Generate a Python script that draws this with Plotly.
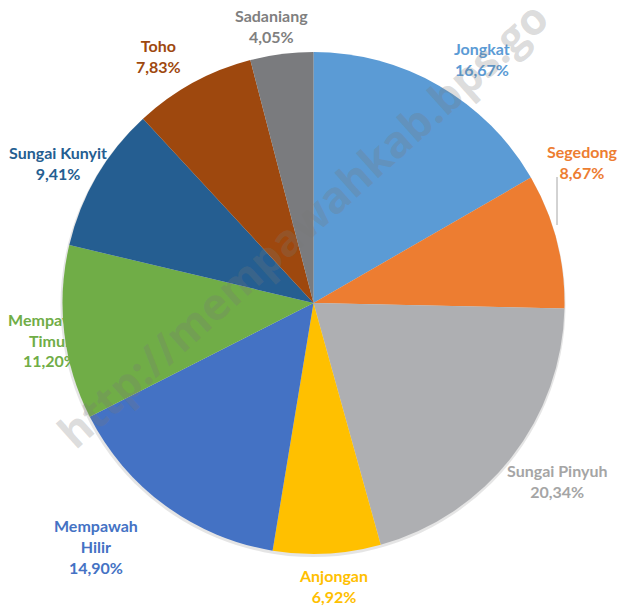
import plotly.graph_objects as go

districts = [
    "Jongkat", "Segedong", "Sungai Pinyuh", "Anjongan", "Mempawah Hilir",
    "Mempawah Timur", "Sungai Kunyit", "Toho", "Sadaniang",
]
shares = [16.67, 8.67, 20.34, 6.92, 14.90, 11.20, 9.41, 7.83, 4.05]

slice_colors = [
    "#5B9BD5", "#ED7D31", "#AEAFB2", "#FFC000", "#4472C4",
    "#70AD47", "#255E91", "#9E480E", "#7A7B7E",
]
label_colors = [
    "#5B9BD5", "#ED7D31", "#A5A5A5", "#FFC000", "#4472C4",
    "#70AD47", "#255E91", "#9E480E", "#7F7F7F",
]
# label text with line breaks, as in the original
label_names = [
    "Jongkat", "Segedong", "Sungai Pinyuh", "Anjongan", "Mempawah<br>Hilir",
    "Mempawah<br>Timur", "Sungai Kunyit", "Toho", "Sadaniang",
]

W, H = 621, 608
# label centres in pixels
label_pos = [
    (482, 59), (582, 162), (557, 481), (334, 586), (96, 546),
    (50, 340), (58, 163), (158, 56), (271, 26),
]


def px(x):
    return x / W


def py(y):
    return 1 - y / H


cx, cy, r = 313.5, 303, 251

fig = go.Figure(
    go.Pie(
        labels=districts,
        values=shares,
        sort=False,
        direction="clockwise",
        rotation=0,
        marker=dict(colors=slice_colors, line=dict(width=0)),
        textinfo="none",
        hoverinfo="label+percent",
        showlegend=False,
        domain=dict(x=[px(cx - r), px(cx + r)], y=[py(cy + r), py(cy - r)]),
    )
)

font_family = "Lato, 'Open Sans', sans-serif"
annotations = []
shapes = [
    # soft shadow under the pie
    dict(
        type="circle", xref="paper", yref="paper", layer="below",
        x0=px(cx - r - 2), x1=px(cx + r + 1), y0=py(cy + r + 3), y1=py(cy - r + 1),
        fillcolor="rgba(0,0,0,0.10)", line=dict(width=0),
    ),
    # leader line for Segedong
    dict(
        type="line", xref="paper", yref="paper", layer="below",
        x0=px(557), x1=px(557), y0=py(177), y1=py(225),
        line=dict(color="#A6A6A6", width=1),
    ),
]

for name, val, col, (lx, ly) in zip(label_names, shares, label_colors, label_pos):
    text = f"<b>{name}<br>{val:.2f}%</b>".replace(".", ",")
    if name.startswith("Mempawah<br>Timur"):
        # this label sits partly behind the pie, so draw it as a shape label
        shapes.append(
            dict(
                type="rect", xref="paper", yref="paper", layer="below",
                x0=px(lx - 50), x1=px(lx + 50), y0=py(ly + 40), y1=py(ly - 40),
                fillcolor="rgba(0,0,0,0)", line=dict(width=0),
                label=dict(
                    text=text, textposition="middle center",
                    font=dict(family=font_family, size=16, color=col),
                ),
            )
        )
        continue
    annotations.append(
        dict(
            x=px(lx), y=py(ly), xref="paper", yref="paper",
            text=text, showarrow=False, xanchor="center", yanchor="middle",
            align="center",
            font=dict(family=font_family, size=16, color=col),
        )
    )

# watermark
annotations.append(
    dict(
        x=px(302), y=py(224), xref="paper", yref="paper",
        text="<b>http://mempawahkab.bps.go</b>", showarrow=False,
        textangle=-42, xanchor="center", yanchor="middle",
        font=dict(family="'Open Sans', sans-serif", size=44, color="rgba(120,120,120,0.26)"),
    )
)

fig.update_layout(
    width=W,
    height=H,
    margin=dict(l=0, r=0, t=0, b=0),
    paper_bgcolor="white",
    plot_bgcolor="white",
    annotations=annotations,
    shapes=shapes,
)

# drop the default page margin so the chart sits at the window's corner
fig.write_html(
    "out.html",
    config={"displayModeBar": False},
    post_script="document.body.style.margin='0';",
)
